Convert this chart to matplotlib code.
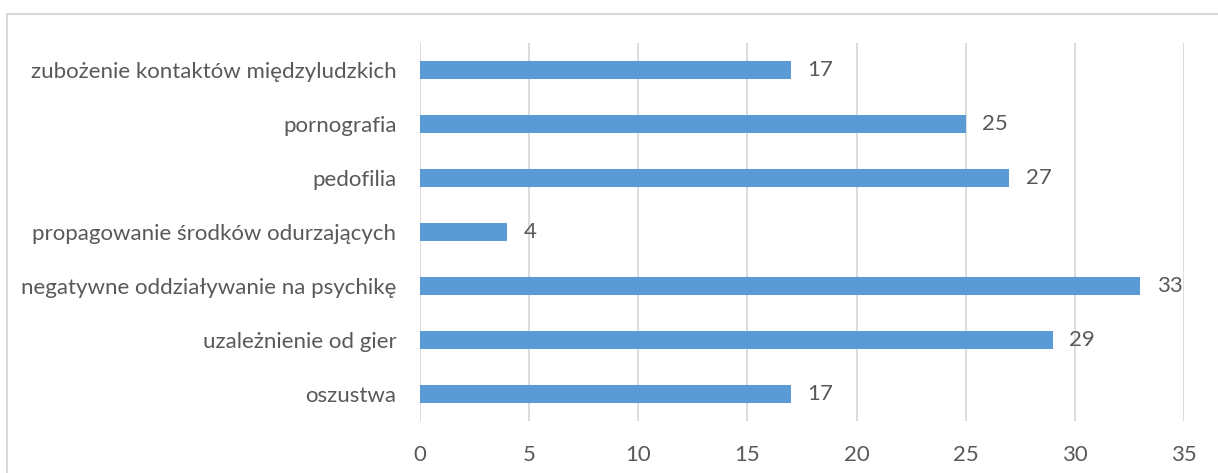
import matplotlib.pyplot as plt
from matplotlib.patches import Rectangle

categories = ['oszustwa', 'uzależnienie od gier', 'negatywne oddziaływanie na psychikę',
              'propagowanie środków odurzających', 'pedofilia', 'pornografia',
              'zubożenie kontaktów międzyludzkich']
values = [17, 29, 33, 4, 27, 25, 17]
xticks = [0, 5, 10, 15, 20, 25, 30, 35]

plt.rcParams['font.family'] = ['Lato', 'DejaVu Sans']
txt = '#595959'
fs = 16

fig = plt.figure(figsize=(12.18, 4.73), dpi=100)
# chart frame (only top and left edges visible in the crop)
fig.patches.append(Rectangle((7 / 1218, -0.1), 1.2, (473 - 14) / 473 + 0.1,
                             transform=fig.transFigure, fill=False,
                             edgecolor='#d9d9d9', linewidth=1.5))

ax = fig.add_axes([420 / 1218, 52 / 473, 764 / 1218, 378 / 473])
y = range(len(categories))
ax.barh(y, values, height=0.34, color='#5B9BD5', zorder=3)
for i, v in enumerate(values):
    ax.text(v + 0.75, i, str(v), va='center', ha='left', fontsize=fs, color=txt)

ax.set_xlim(0, 35)
ax.set_ylim(-0.5, len(categories) - 0.5)
ax.set_xticks(xticks)
ax.set_yticks(list(y))
ax.set_yticklabels(categories)
ax.grid(axis='x', color='#d9d9d9', linewidth=1.3, zorder=0)
for s in ax.spines.values():
    s.set_visible(False)
ax.tick_params(axis='both', length=0, labelsize=fs, labelcolor=txt)
ax.tick_params(axis='x', pad=17)
ax.tick_params(axis='y', pad=17)

fig.savefig('out.png', dpi=100)
